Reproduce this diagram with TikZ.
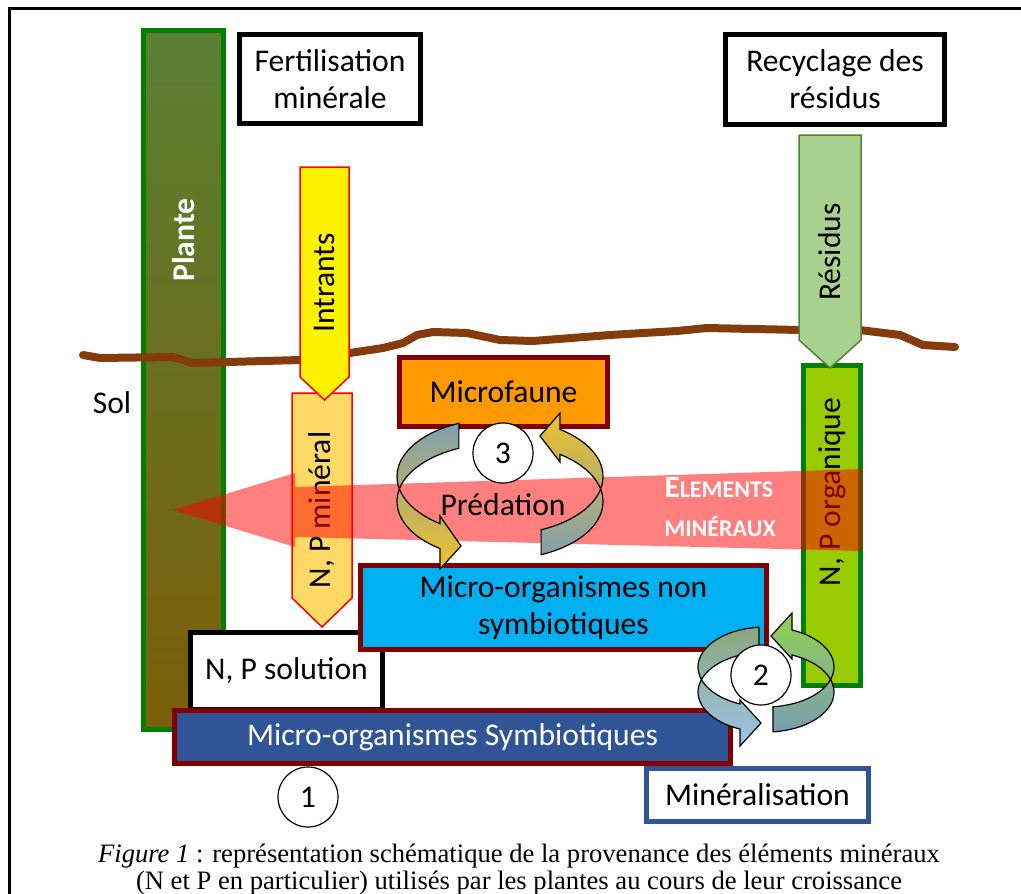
\documentclass[tikz,border=0pt]{standalone}
\usepackage{fontspec}
\setmainfont{Liberation Serif}
\newfontfamily\calib{Carlito}
\usetikzlibrary{positioning}
\definecolor{soil}{RGB}{132,60,12}
\definecolor{plantetop}{RGB}{90,128,52}
\definecolor{plantebot}{RGB}{122,94,8}
\definecolor{leaf}{RGB}{0,128,0}
\definecolor{wine}{RGB}{128,0,0}
\definecolor{faune}{RGB}{255,153,0}
\definecolor{sky}{RGB}{0,176,240}
\definecolor{navy}{RGB}{47,85,151}
\definecolor{minfill}{RGB}{255,217,102}
\definecolor{resfill}{RGB}{169,209,142}
\definecolor{resline}{RGB}{84,130,53}
\definecolor{orgfill}{RGB}{153,204,0}
\definecolor{cgray}{RGB}{127,159,176}
\definecolor{cgold}{RGB}{240,193,40}
\definecolor{ctgreen}{RGB}{138,166,126}
\definecolor{ctblue}{RGB}{157,195,230}
\definecolor{cgreen}{RGB}{146,208,80}
\definecolor{cslate}{RGB}{122,157,176}
\newcommand\bigfont{\calib\fontsize{31.6}{37}\selectfont}
\newcommand\capfont{\fontsize{26.6}{27}\selectfont}

\begin{document}
\begin{tikzpicture}[x=1pt, y=-1pt,
  box/.style = {draw, line width=5pt, inner sep=0pt, outer sep=0pt, align=center, font=\bigfont},
  lbl/.style = {inner sep=0pt, align=center, font=\bigfont},
  num/.style = {draw, circle, fill=white, line width=1.2pt, minimum size=60pt, inner sep=0pt, font=\bigfont},
  flow/.style = {line width=1.5pt, line join=miter},
  cyc/.style = {draw=black, line width=1.2pt, line join=miter},
]
  \useasboundingbox (0,0) rectangle (1021,894);

  % cadre
  \draw[line width=2.5pt] (9.5,894) -- (9.5,8.5) -- (1021,8.5);

  % plante
  \draw[line width=5pt, draw=leaf, top color=plantetop, bottom color=plantebot]
    (143.5,30.5) rectangle (223.5,729.5);
  \node[lbl, rotate=90, text=white, font=\bigfont\bfseries] (plantelbl) at (183.5,240) {Plante};

  % sol
  \draw[soil, line width=8pt, line join=round, line cap=round]
    (83,355) -- (100,358) -- (173,357) -- (192,363) -- (300,360) -- (350,353)
    -- (383,348) -- (403,343) -- (417,335) -- (433,332) -- (467,333) -- (500,340)
    -- (533,341) -- (610,335) -- (677,331) -- (707,328) -- (800,330) -- (860,330)
    -- (900,335) -- (923,345) -- (955,347);

  \node[box] (fert) at (330,79) [minimum width=181pt, minimum height=89pt] {Fertilisation\\minérale};
  \node[box] (recyc) at (835,79.5) [minimum width=219pt, minimum height=90pt] {Recyclage des\\résidus};

  % N, P mineral + intrants
  \draw[flow, draw=red, fill=minfill] (292,393) -- (352,393) -- (352,598) -- (322,627) -- (292,598) -- cycle;
  \node[lbl, rotate=90] (npminlbl) at (322,510) {N, P minéral};
  \draw[flow, draw=red, fill=yellow] (300,167) -- (349,167) -- (349,377) -- (324.5,400) -- (300,377) -- cycle;
  \node[lbl, rotate=90] (intrantslbl) at (324.5,283) {Intrants};

  % N, P organique + residus
  \node[box, draw=leaf, fill=orgfill, minimum width=57pt, minimum height=320pt] (nporg) at (832,525.5) {};
  \node[lbl, rotate=90] (nporglbl) at (832,492) {N, P organique};
  \draw[flow, draw=resline, fill=resfill] (799,135) -- (861,135) -- (861,340) -- (830,368) -- (799,340) -- cycle;
  \node[lbl, rotate=90] (residuslbl) at (830,252) {Résidus};

  \node[box, draw=wine, fill=faune, minimum width=208pt, minimum height=69pt] (microfaune) at (503.5,392) {Microfaune};

  \node[box, fill=white, minimum width=192pt, minimum height=77pt] (npsol) at (286.5,671) {N, P solution};
  \node[box, draw=wine, fill=sky, minimum width=406pt, minimum height=84pt] (mosns) at (563.5,607.5) {Micro-organismes non\\symbiotiques};
  \node[box, draw=wine, fill=navy, text=white, minimum width=556pt, minimum height=53pt] (mosymb) at (452.5,737) {Micro-organismes Symbiotiques};

  % elements mineraux
  \fill[red, opacity=0.5] (862,469) -- (295,487) -- (295,473) -- (173,510) -- (295,547) -- (295,537) -- (862,551) -- cycle;
  \node[anchor=base, inner sep=0pt, text=white, font=\calib\bfseries] (elem1) at (719,497)
    {\fontsize{31}{31}\selectfont E\fontsize{24}{24}\selectfont LEMENTS};
  \node[anchor=base, inner sep=0pt, text=white, font=\calib\bfseries\fontsize{24}{24}\selectfont] (elem2) at (720,536) {MINÉRAUX};

  % predation
  \draw[cyc, top color=cgray, bottom color=cgold]
    (458.9,423.3) arc[start angle=246.5, end angle=125.6, x radius=103, y radius=58]
    -- (440,516) -- (461,546) -- (440,569)
    -- (440,548.6) arc[start angle=125.6, end angle=246.5, x radius=103, y radius=58] -- cycle;
  \draw[cyc, top color=cgold, bottom color=cgray]
    (541.1,554.7) arc[start angle=66.5, end angle=-54.4, x radius=103, y radius=58]
    -- (560,462) -- (540,436) -- (560,413)
    -- (560,429.4) arc[start angle=-54.4, end angle=66.5, x radius=103, y radius=58] -- cycle;
  \node[num] (c3) at (503,453) {3};
  \node[lbl] (predation) at (503,505) {Prédation};

  % mineralisation
  \draw[cyc, top color=ctgreen, bottom color=ctblue]
    (759,627.2) arc[start angle=264.1, end angle=112.5, x radius=68, y radius=40]
    -- (740,700) -- (761,723) -- (740,746)
    -- (740,729) arc[start angle=112.5, end angle=264.1, x radius=68, y radius=40] -- cycle;
  \draw[cyc, top color=cgreen, bottom color=cslate]
    (773,731.8) arc[start angle=84.1, end angle=-67.5, x radius=68, y radius=40]
    -- (792,659) -- (771,636) -- (792,613)
    -- (792,630) arc[start angle=-67.5, end angle=84.1, x radius=68, y radius=40] -- cycle;
  \node[num] (c2) at (761,675) {2};

  \node[num] (c1) at (308,797) {1};
  \node[box, draw=navy, fill=white, minimum width=222pt, minimum height=53pt] (mineral) at (757.5,795) {Minéralisation};

  \node[lbl, anchor=base] (sollbl) at (112,413) {Sol};

  % legende
  \node[anchor=base, inner sep=0pt, font=\capfont] (cap1) at (519,862)
    {\textit{Figure 1} : représentation schématique de la provenance des éléments minéraux};
  \node[anchor=base, inner sep=0pt, font=\capfont] (cap2) at (519,889)
    {(N et P en particulier) utilisés par les plantes au cours de leur croissance};
\end{tikzpicture}
\end{document}
